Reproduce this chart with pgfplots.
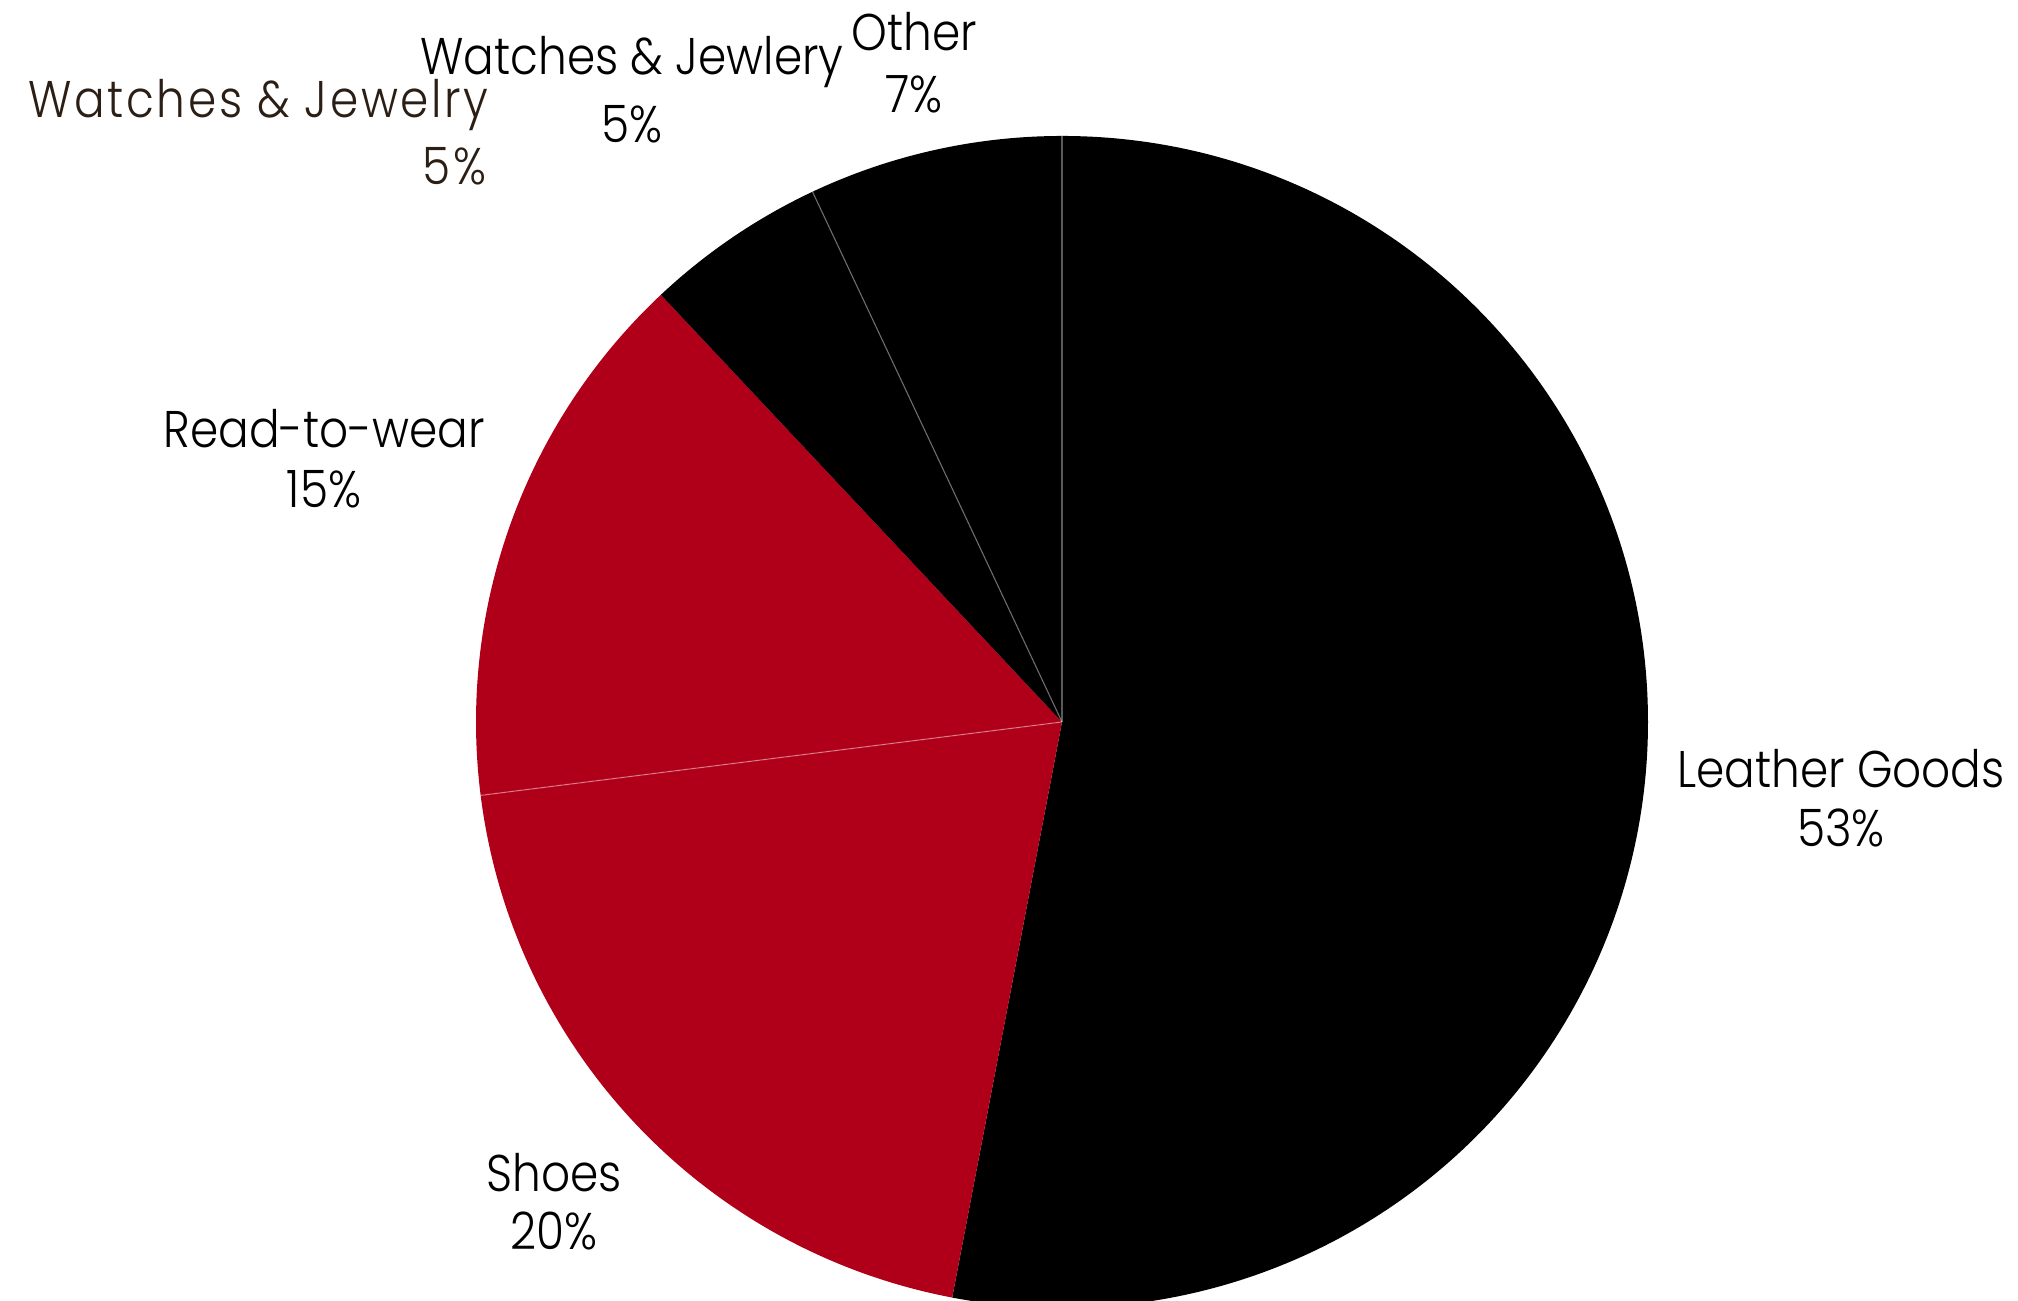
\documentclass[border=0pt]{standalone}
\usepackage{pgfplots}
\usepackage{pgfplotstable}
\pgfplotsset{compat=1.18}
\usepackage{fontspec}
\setmainfont{Poppins}[UprightFont=* Light, FakeStretch=0.88]
\newfontfamily\brownfont{Poppins}[UprightFont=* Light, FakeStretch=0.88, LetterSpace=5]
\definecolor{pred}{HTML}{B00019}
\definecolor{lbrown}{RGB}{43,30,20}
\pgfplotstableread{
label value col
Leather 53 black
Shoes 20 pred
Read 15 pred
Watches 5 black
Other 7 black
}\piedata
\begin{document}
\begin{tikzpicture}
\begin{axis}[x=0.25pt, y=0.25pt, xmin=0, xmax=2018, ymin=0, ymax=1301,
  hide axis, scale only axis, clip=true]
\def\astart{90}
\pgfplotsforeachungrouped \i in {0,...,4}{%
  \pgfplotstablegetelem{\i}{value}\of\piedata \let\v\pgfplotsretval
  \pgfplotstablegetelem{\i}{col}\of\piedata \let\c\pgfplotsretval
  \pgfmathsetmacro\aend{\astart-3.6*\v}%
  \edef\temp{\noexpand\fill[\c] (axis cs:1062,579) -- ++(\astart:146.5pt) arc[start angle=\astart, end angle=\aend, radius=146.5pt] -- cycle;}%
  \temp
  \global\let\astart\aend
}
\def\astart{90}
\def\prevc{black}
\pgfplotsforeachungrouped \i in {0,...,4}{%
  \pgfplotstablegetelem{\i}{value}\of\piedata \let\v\pgfplotsretval
  \pgfplotstablegetelem{\i}{col}\of\piedata \let\c\pgfplotsretval
  \ifx\c\prevc
    \edef\temp{\noexpand\draw[white, opacity=0.35, line width=0.3pt] (axis cs:1062,579) -- ++(\astart:146.5pt);}%
    \temp
  \fi
  \pgfmathsetmacro\aend{\astart-3.6*\v}%
  \global\let\astart\aend
  \global\let\prevc\c
}
\fontsize{12.9pt}{15pt}\selectfont
\tikzset{every node/.append style={inner sep=0pt}}
\node[anchor=base] at (axis cs:1841,513) {Leather Goods};
\node[anchor=base] at (axis cs:1841,454) {53\%};
\node[anchor=base] at (axis cs:324,853) {Read-to-wear};
\node[anchor=base] at (axis cs:324,793) {15\%};
\node[anchor=base] at (axis cs:554,109) {Shoes};
\node[anchor=base] at (axis cs:554,51) {20\%};
\node[anchor=base] at (axis cs:914,1250) {Other};
\node[anchor=base] at (axis cs:914,1188) {7\%};
\node[anchor=base] at (axis cs:632,1226) {Watches \& Jewlery};
\node[anchor=base] at (axis cs:632,1158) {5\%};
\node[anchor=base east, text=lbrown, font=\brownfont] at (axis cs:489,1183) {Watches \& Jewelry};
\node[anchor=base east, text=lbrown, font=\brownfont] at (axis cs:487,1116) {5\%};
\end{axis}
\pgfresetboundingbox
\path[use as bounding box] (current axis.south west) rectangle (current axis.north east);
\end{tikzpicture}
\end{document}
